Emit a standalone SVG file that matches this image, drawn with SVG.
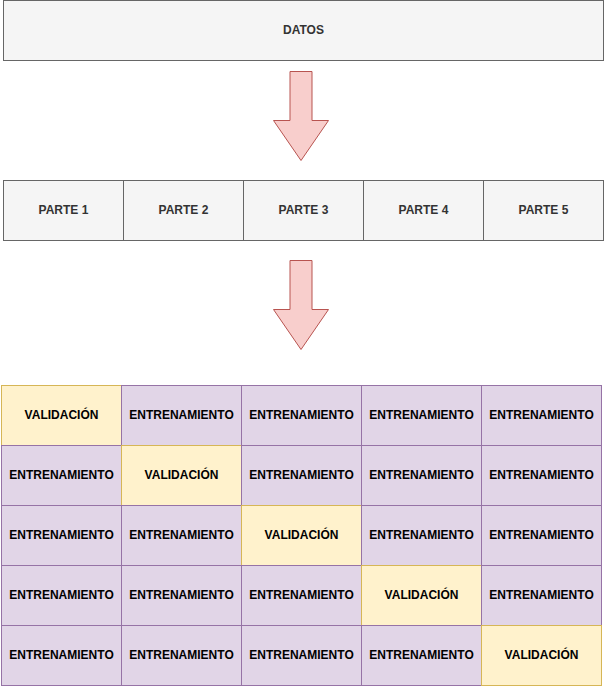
<svg xmlns="http://www.w3.org/2000/svg" width="604" height="686" viewBox="0 0 604 686">
<defs>
<style>
text{font-family:"Liberation Sans",Arial,Helvetica,sans-serif;font-size:12px;font-weight:bold;text-anchor:middle;dominant-baseline:central}
.g{fill:#f5f5f5;stroke:#666666;stroke-width:1}
.gt{fill:#333333}
.a{fill:#f8cecc;stroke:#b85450;stroke-width:1}
.v{fill:#fff2cc;stroke:#d6b656;stroke-width:1}
.e{fill:#e1d5e7;stroke:#9673a6;stroke-width:1}
.t{fill:#000000}
</style>
</defs>
<rect width="604" height="686" fill="#ffffff"/>
<g id="datos"><rect class="g" x="3.5" y="0.5" width="600" height="60"/><text class="gt" x="303.5" y="29.5">DATOS</text></g>
<g id="connectors">
<path class="a" d="M290,71.5 H312 V120.5 H328.5 L301,160.5 L273.5,120.5 H290 Z"/>
<path class="a" d="M290,260.5 H312 V309.5 H328.5 L301,349.5 L273.5,309.5 H290 Z"/>
</g>
<g id="parte1"><rect class="g" x="3.5" y="180.5" width="120" height="60"/><text class="gt" x="63.5" y="209.5">PARTE 1</text></g>
<g id="parte2"><rect class="g" x="123.5" y="180.5" width="120" height="60"/><text class="gt" x="183.5" y="209.5">PARTE 2</text></g>
<g id="parte3"><rect class="g" x="243.5" y="180.5" width="120" height="60"/><text class="gt" x="303.5" y="209.5">PARTE 3</text></g>
<g id="parte4"><rect class="g" x="363.5" y="180.5" width="120" height="60"/><text class="gt" x="423.5" y="209.5">PARTE 4</text></g>
<g id="parte5"><rect class="g" x="483.5" y="180.5" width="120" height="60"/><text class="gt" x="543.5" y="209.5">PARTE 5</text></g>

<g id="r1c1"><rect class="v" x="1.5" y="385.5" width="120" height="60"/><text class="t" x="61.5" y="414.5">VALIDACIÓN</text></g>
<g id="r1c2"><rect class="e" x="121.5" y="385.5" width="120" height="60"/><text class="t" x="181.5" y="414.5">ENTRENAMIENTO</text></g>
<g id="r1c3"><rect class="e" x="241.5" y="385.5" width="120" height="60"/><text class="t" x="301.5" y="414.5">ENTRENAMIENTO</text></g>
<g id="r1c4"><rect class="e" x="361.5" y="385.5" width="120" height="60"/><text class="t" x="421.5" y="414.5">ENTRENAMIENTO</text></g>
<g id="r1c5"><rect class="e" x="481.5" y="385.5" width="120" height="60"/><text class="t" x="541.5" y="414.5">ENTRENAMIENTO</text></g>

<g id="r2c1"><rect class="e" x="1.5" y="445.5" width="120" height="60"/><text class="t" x="61.5" y="474.5">ENTRENAMIENTO</text></g>
<g id="r2c2"><rect class="v" x="121.5" y="445.5" width="120" height="60"/><text class="t" x="181.5" y="474.5">VALIDACIÓN</text></g>
<g id="r2c3"><rect class="e" x="241.5" y="445.5" width="120" height="60"/><text class="t" x="301.5" y="474.5">ENTRENAMIENTO</text></g>
<g id="r2c4"><rect class="e" x="361.5" y="445.5" width="120" height="60"/><text class="t" x="421.5" y="474.5">ENTRENAMIENTO</text></g>
<g id="r2c5"><rect class="e" x="481.5" y="445.5" width="120" height="60"/><text class="t" x="541.5" y="474.5">ENTRENAMIENTO</text></g>

<g id="r3c1"><rect class="e" x="1.5" y="505.5" width="120" height="60"/><text class="t" x="61.5" y="534.5">ENTRENAMIENTO</text></g>
<g id="r3c2"><rect class="e" x="121.5" y="505.5" width="120" height="60"/><text class="t" x="181.5" y="534.5">ENTRENAMIENTO</text></g>
<g id="r3c3"><rect class="v" x="241.5" y="505.5" width="120" height="60"/><text class="t" x="301.5" y="534.5">VALIDACIÓN</text></g>
<g id="r3c4"><rect class="e" x="361.5" y="505.5" width="120" height="60"/><text class="t" x="421.5" y="534.5">ENTRENAMIENTO</text></g>
<g id="r3c5"><rect class="e" x="481.5" y="505.5" width="120" height="60"/><text class="t" x="541.5" y="534.5">ENTRENAMIENTO</text></g>

<g id="r4c1"><rect class="e" x="1.5" y="565.5" width="120" height="60"/><text class="t" x="61.5" y="594.5">ENTRENAMIENTO</text></g>
<g id="r4c2"><rect class="e" x="121.5" y="565.5" width="120" height="60"/><text class="t" x="181.5" y="594.5">ENTRENAMIENTO</text></g>
<g id="r4c3"><rect class="e" x="241.5" y="565.5" width="120" height="60"/><text class="t" x="301.5" y="594.5">ENTRENAMIENTO</text></g>
<g id="r4c4"><rect class="v" x="361.5" y="565.5" width="120" height="60"/><text class="t" x="421.5" y="594.5">VALIDACIÓN</text></g>
<g id="r4c5"><rect class="e" x="481.5" y="565.5" width="120" height="60"/><text class="t" x="541.5" y="594.5">ENTRENAMIENTO</text></g>

<g id="r5c1"><rect class="e" x="1.5" y="625.5" width="120" height="60"/><text class="t" x="61.5" y="654.5">ENTRENAMIENTO</text></g>
<g id="r5c2"><rect class="e" x="121.5" y="625.5" width="120" height="60"/><text class="t" x="181.5" y="654.5">ENTRENAMIENTO</text></g>
<g id="r5c3"><rect class="e" x="241.5" y="625.5" width="120" height="60"/><text class="t" x="301.5" y="654.5">ENTRENAMIENTO</text></g>
<g id="r5c4"><rect class="e" x="361.5" y="625.5" width="120" height="60"/><text class="t" x="421.5" y="654.5">ENTRENAMIENTO</text></g>
<g id="r5c5"><rect class="v" x="481.5" y="625.5" width="120" height="60"/><text class="t" x="541.5" y="654.5">VALIDACIÓN</text></g>
</svg>
